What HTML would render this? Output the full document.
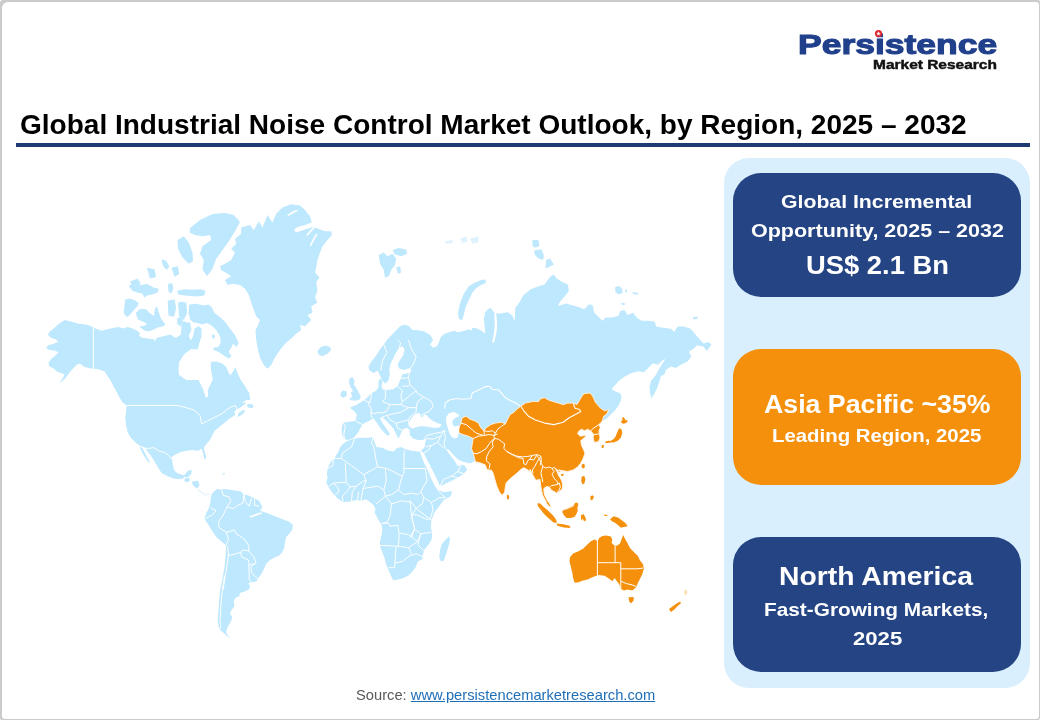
<!DOCTYPE html>
<html lang="en">
<head>
<meta charset="utf-8">
<title>Global Industrial Noise Control Market Outlook, by Region, 2025 – 2032</title>
<style>
html,body{margin:0;padding:0;}
body{width:1040px;height:720px;position:relative;overflow:hidden;background:#fff;font-family:"Liberation Sans",sans-serif;}
.frame{position:absolute;left:0;top:0;width:1040px;height:720px;background:#cbcbcb;border-radius:3px 2px 2px 2px;}
.frame i{position:absolute;left:2px;top:2px;right:1px;bottom:1.5px;background:#fff;border-radius:6px 3px 3px 3px;display:block;}
.t{position:absolute;white-space:nowrap;line-height:1;transform-origin:0 0;}
.rule{position:absolute;left:16px;top:143px;width:1014px;height:3.5px;background:#203a74;}
.panel{position:absolute;left:724px;top:158px;width:306px;height:530px;border-radius:25px;background:#d9effd;}
.card{position:absolute;left:733px;width:288px;border-radius:28px;color:#fff;}
.c1{top:173px;height:124px;background:#244483;}
.c2{top:349px;height:136px;background:#f5900c;}
.c3{top:537px;height:135px;background:#244483;}
.b{font-weight:bold;}
.w{color:#fff;}
.src{color:#595959;}
.src a{color:#1f6fb8;text-decoration:underline;}
</style>
</head>
<body>
<div class="frame"><i></i></div>
<div class="t b" style="left:797.6px;top:29.9px;font-size:28.4px;transform:scaleX(1.25);color:#21408c;-webkit-text-stroke:1.1px #21408c;">Persistence</div>
<div class="t b" style="left:872.95px;top:58.58px;font-size:12.43px;transform:scaleX(1.2459);color:#111;-webkit-text-stroke:0.45px #111;">Market Research</div>
<svg style="position:absolute;left:874px;top:29px" width="9" height="9" viewBox="0 0 9 9"><circle cx="4.5" cy="4.5" r="3.6" fill="#e0242b"/><path d="M4.5 2.2 L5.1 3.8 L6.8 3.9 L5.5 4.9 L5.9 6.6 L4.5 5.7 L3.1 6.6 L3.5 4.9 L2.2 3.9 L3.9 3.8 Z" fill="#fff"/></svg>
<div class="t b" style="left:19.89px;top:110.67px;font-size:27.79px;transform:scaleX(1.0086);color:#000;">Global Industrial Noise Control Market Outlook, by Region, 2025 – 2032</div>
<div class="rule"></div>
<!--MAP-->
<svg style="position:absolute;left:0;top:0" width="1040" height="720" viewBox="0 0 1040 720">
<path fill="#bee8fd" d="M93.1,326.9 86.2,324.6 78.5,323.8 70.8,321.5 64.6,320 60,323.1 55.4,326.9 50,331.5 47.7,334.6 50.8,337.7 55.4,339.2 58.5,341.5 53.8,343.8 47.7,345.4 46.2,347.7 49.2,350 55.4,350.8 58.5,352.3 54.6,356.2 50.8,359.2 48.5,363.1 49.2,366.2 52.3,367.7 54.6,369.2 56.9,371.5 60.8,373.1 64.6,374.6 63.1,377.7 59.2,383.1 64.6,379.2 69.2,373.1 73.1,368.5 76.9,364.6 80,363.8 84.6,366.9 90.8,368.5 93.1,368.5 98.5,369.2 104.6,371.5 107.7,376.2 110.8,380.8 113.8,386.9 116.9,391.5 120,397.7 123.8,402.3 126.9,405.4 126.2,411.5 125.4,420 200,420 200,390 178.5,374.6 178.5,360.8 187.7,350 193.8,343.1 187.7,337.7 176.9,339.2 170.8,334.6 163.1,336.2 156.9,337.7 155.4,343.1 153.8,339.2 147.7,338.5 141.5,337.7 138.5,335.4 140,333.1 136.9,330.8 132.3,328.5 127.7,326.9 123.1,328.5 118.5,326.9 113.8,327.7 107.7,329.2 101.5,330.8 95.4,328.5Z"/>
<path fill="#bee8fd" d="M130,400 130,328.2 136.9,330.8 140,333.4 138.9,335.4 142,338 147.7,338.9 153.1,338.9 154.3,343.1 155.8,338.9 163.1,336.9 170,336.2 176.2,337.7 180.8,334.6 181.5,325.4 183.8,320.8 186.9,323.1 187.7,333.1 190.8,340.8 193.1,336.2 194.6,328.5 198.5,326.2 201.5,328.5 201.5,336.2 199.2,343.8 197.7,349.2 190.8,349.2 183.8,354.6 179.2,362.3 177.7,370 179.2,376.2 183.8,380.8 191.5,383.8 197.7,386.2 201.5,388.5 202.3,394.6 205.4,398.5 208.5,396.2 207.7,390 210,385.4 213.1,380.8 211.5,373.1 210.8,366.9 210.8,362 216.2,361.5 222.3,363.5 226.2,366.9 228.5,372.3 230.3,375.4 233.1,371.5 235.4,366.9 237.7,373.8 240.8,380 245.1,386.2 248.5,392.3 250.3,400Z"/>
<path fill="#bee8fd" d="M190.8,305.4 194.6,303.8 197.7,306.9 199.2,304.6 203.8,305.4 208.5,304.6 211.5,306.9 214.6,313.1 220.8,317.7 225.4,322.3 230,328.5 234.6,334.6 237.7,340.8 238.5,343.8 236.2,346.9 233.1,343.8 230.8,348.5 228.5,351.5 231.5,356.2 228.5,358.5 222.3,354.6 217.7,351.5 213.8,350 213.1,347.7 218.5,346.9 220.8,342.3 220,336.2 216.2,330 211.5,325.4 206.9,323.1 202.3,324.6 197.7,323.1 193.1,322.3 190,319.2 189.2,313.1 190,308.5Z"/>
<path fill="#bee8fd" d="M123.7,312.1 125.2,299.4 129.6,298.5 134.4,299.9 138.8,303.3 137.4,306.2 134.4,309.2 131.5,313 127.6,316.9 124.7,315Z"/>
<path fill="#bee8fd" d="M135.9,313 140.3,308.7 146.1,309.2 149,312.6 153.9,316 154.8,309.2 156.8,306.2 158.7,312.1 160.7,317.9 165.5,324.7 162.6,326.6 157.8,327.6 153.9,329.6 148,331.5 144.2,330.5 139.3,326.6 144.2,325.7 147.1,323.7 143.2,321.8 138.3,319.8 136.9,316.9Z"/>
<path fill="#bee8fd" d="M168,304.3 172.3,303.3 175.3,308.2 174.3,314 170.4,315 168.4,310.1Z"/>
<path fill="#bee8fd" d="M178.2,302.4 183,301.4 185.5,306.2 183,312.1 179.1,311.1Z"/>
<path fill="#bee8fd" d="M177.2,317.9 182.1,316.9 183,322.8 180.1,326.6 177.2,323.7Z"/>
<path fill="#bee8fd" d="M128.6,285.8 134.4,282.9 140.3,284.9 147.1,283.9 153.9,287.8 158.7,288.7 157.8,292.6 151.9,294.6 147.1,295.5 144.2,297.5 142.2,293.6 137.4,292.6 132.5,290.7Z"/>
<path fill="#bee8fd" d="M168,283.9 172.3,282.9 173.3,288.7 171.4,293.6 168.4,291.7Z"/>
<path fill="#bee8fd" d="M177.2,290.7 185,289.2 192.7,289.7 200.5,289.2 205.4,290.7 204.4,295.5 197.6,296.5 190.8,296 185,295.5 178.2,294.6Z"/>
<path fill="#bee8fd" d="M190,228 200,220 212.5,214 225,213 233.8,215 240,222 235,231.2 228.8,241.2 222.5,250 216.2,258.8 212.5,268.8 207,276.2 202.5,269.5 203.8,260 200,253.8 202.5,246.2 211.2,240 210,235 202.5,236.2 195,235 189.5,232.5Z"/>
<path fill="#bee8fd" d="M177.5,240 183.8,236.2 188.8,242.5 192.5,252.5 193,261.2 188.8,263.8 182.5,257.5 178,248.8Z"/>
<path fill="#bee8fd" d="M161.5,259.2 166.2,260.8 169.2,266.2 166.9,270 163.1,266.2Z"/>
<path fill="#bee8fd" d="M171.5,267.7 177.7,266.2 179.2,273.8 174.6,276.9Z"/>
<path fill="#bee8fd" d="M146.9,267.7 154.6,269.2 156.2,276.9 150,278.5Z"/>
<path fill="#bee8fd" d="M130,281.5 137.7,278.5 140.8,283.8 133.1,287.7Z"/>
<path fill="#bee8fd" d="M140.8,287.7 150,286.2 154.6,292.3 145.4,295.4Z"/>
<path fill="#bee8fd" d="M241.2,227.5 250,225 253.8,230 258.8,221.2 262.5,227.5 267.5,215 272.5,222.5 276.2,213.8 282.5,207.5 291.2,204.2 300,205.5 303.8,208.8 310,216.2 311.8,222.5 305,225 297.5,227 293.8,230 296.2,232.5 305,229.5 311.2,227.5 315,227.5 325,231.2 331.2,231.2 332,235 327.5,240 322.5,246.2 320,252.5 317.5,260 316.2,267.5 315,272.5 319.5,277.5 316.2,282.5 317.5,290 315,297.5 317.5,302.5 311.2,306.2 312.5,312.5 307.5,315 311.2,320 305,326.2 300,325 301.2,330 296.2,333.8 292.5,337.5 285,343.8 280,350 275,357.5 271.2,365 267.5,368.8 263.8,365 260,357.5 258,350 256.2,340 255.5,330 257.5,326.2 260,320 256.2,316.2 253.8,310 251.2,302.5 248.8,295 245,288.8 240,285 232.5,283.8 227.5,285 225,280 231.2,276.2 227.5,273.8 221.2,270 220,266.2 225,263.8 231.2,260 235,252.5 231.2,248.8 236.2,243.8 235,238.8 241.2,233.8Z"/>
<path fill="#bee8fd" d="M317.5,351.2 320,347.5 325,345.5 330,347 331.2,350 327.5,353.8 322.5,356.2 318.8,355Z"/>
<path fill="#bee8fd" d="M110.8,380 114.6,387.7 118.5,395.4 122.3,402.3 126.9,405.4 126.2,410.8 125.4,418.5 126.2,426.2 127.7,432.3 130.8,437.7 135.4,442.3 139.2,445.4 144.6,447.7 150.8,455.4 155.4,463.1 159.2,469.2 161.5,473.1 167.7,476.2 173.8,478.5 178.5,479.2 183.1,478.5 184.3,476.6 186.2,475.1 185.4,474.6 181.5,475.4 177.7,473.8 174.6,470.8 173.1,466.2 172.3,461.5 171.5,456.9 173.8,455.4 180,452.3 186.2,450.8 192.3,450 198.5,450.8 201.5,448.5 202.8,452.3 203.8,456.9 204.6,460.3 206.2,456.9 204.9,452.3 203.8,447.7 206.2,444.6 210.8,438.5 213.1,433.8 214.6,430.8 218.5,427.7 222.3,424.6 226.2,421.5 228.5,419.2 232.3,416.9 235.4,414.6 234.2,411.5 236.9,409.2 240,407.7 244.6,404.6 246.2,402.3 241.5,403.1 246.2,400 250,396.9 249.2,392.3 243.8,387.7 238.5,380 212.3,380 210,386.2 209.2,393.8 206.2,398.8 203.1,389.2 198.5,380Z"/>
<path fill="#bee8fd" d="M246.9,404.6 251.5,403.8 253.8,406.2 252.3,408 247.7,407.4Z"/>
<path fill="#bee8fd" d="M238.5,413.1 243.1,410 245.4,410.8 242.3,414.6 237.7,416.9Z"/>
<path fill="#bee8fd" d="M139.7,446.5 142.3,447.7 146.2,455.4 150,462.3 148.5,462.6 143.8,455.4 140.3,448.8Z"/>
<path fill="#bee8fd" d="M187.7,470.7 191.8,470.1 191.3,473.7 188.9,476.6 185.9,477.2 183,476.3 177.1,474.9 174.7,472.5 179.4,473.7 184.2,475.5 185.9,473.1Z"/>
<path fill="#bee8fd" d="M184.8,478.4 188.9,477.2 190.1,480.8 186.5,482.5 184.2,480.8Z"/>
<path fill="#bee8fd" d="M191.8,481.4 198.3,480.8 199.5,485.5 197.2,488.4 194.2,486.7 192.4,483.7Z"/>
<path fill="#e6f5fd" d="M197.7,489 205.4,494.3 210.1,493.8 210.1,494.9 204.8,495.5 196.9,490Z"/>
<path fill="#d9f0fc" d="M222.5,472.7 224.9,472.7 225.3,474.6 222.9,474.9Z"/>
<path fill="#bee8fd" d="M213.1,492.3 216.9,488.9 220.8,489.5 223.1,488.9 228.5,489.5 234.6,490.5 240.8,491.5 243.8,494.6 248.5,495.4 254.6,498.5 259.2,500.8 262.3,506.9 260,510.8 266.9,513.1 273.1,515.4 280.8,518.5 288.5,521.5 292.8,524.6 292.3,529.2 290,533.1 286.2,536.9 285.1,541.5 284.2,547.7 282.3,552.3 279.2,555.4 273.8,557.7 270,560 266.2,563.8 263.8,569.2 261.5,573.8 258.5,577.7 256.2,581.5 251.5,582.3 248.5,583.1 250,586.2 249.2,589.2 244.6,591.5 240,593.1 239.2,596.2 235.4,597.7 233.8,601.5 234.6,606.2 231.5,610 230,613.8 232.3,616.9 231.5,620 229.2,624.6 226.9,628.5 226.2,632.3 228.5,636.2 231.5,638.5 227.7,636.5 223.1,632.6 220,630 218.5,626.2 217.7,620 218.5,610.8 219.2,600 220,590.8 222.3,580 224.6,566.2 225.7,553.8 226.2,545.4 221.5,541.5 216.9,537.7 213.1,532.3 209.2,526.2 206.2,521.5 204.6,518.5 206.2,513.1 208.5,509.2 210,504.6 210.8,498.5 211.5,494.6Z"/>
<path fill="#ffffff" d="M249.2,516.6 254.6,514.2 261.5,512.3 262.3,513.5 256.2,515.7 250.8,517.7Z"/>
<path fill="#bee8fd" d="M346.2,441.5 354.6,438.5 360.8,437.7 368.5,437.7 373.1,436.9 374.6,442.3 376.2,446.9 382.3,447.7 388.5,450.8 393.8,451.5 396.2,448.5 400.8,446.9 405.4,449.2 411.5,450.8 417.7,451.5 420,451.5 420.8,454.6 423.8,462.3 427.7,470 430.8,477.7 433.1,482.3 435.4,486.9 437.7,490 443.8,492.3 449.2,491.5 452.3,491.2 450.8,496.2 443.8,500 439.2,506.2 434.6,512.3 431.5,520 430.8,527.7 432.3,533.1 431.5,540 428.5,544.6 424.6,549.2 423.1,553.8 422.3,559.2 417.7,561.5 416.2,566.2 413.1,570.8 408.5,575.4 402.3,578.5 396.2,580 393.1,580.3 390.8,575.4 388.5,570 386.2,564.6 384.6,558.5 382.3,552.3 380,546.2 380,541.5 381.5,535.4 382.3,529.2 381.5,524.6 378.5,520 376.2,515.4 374.6,513.1 375.4,508.5 373.1,504.6 370,502.3 366.2,499.2 360.8,500.8 356.2,500 350,501.5 343.1,502.3 340.8,500.8 337.7,498.5 334.6,495.4 331.5,491.5 328.5,486.9 326.2,482.3 327.7,477.7 326.9,473.8 327.7,468.5 330,463.1 334.6,457.7 337.7,453.1 340,447.7 343.1,443.8Z"/>
<path fill="#bee8fd" d="M449.2,536.2 450,540 448.5,546.2 446.2,553.8 443.8,560.8 440.8,561.2 439.2,556.9 440,550.8 441.5,544.6 444.6,540.8 447.7,537.7Z"/>
<path fill="#bee8fd" d="M400,326.2 404.6,324.6 409.2,326.2 412.3,330 416.9,330 424.6,331.5 430.8,335.4 433.1,340 430,344.6 433.1,347.7 436.9,346.2 439.2,341.5 440.8,336.9 444.6,333.8 449.2,332.3 453.8,330.8 458.5,332.3 464.6,330.8 469.2,329.2 471.5,330.8 472.3,327.7 476.9,328.5 481.5,330.8 485.4,333.8 484.6,326.2 483.8,318.5 485.4,312.3 487.7,309.2 490.8,308 493.8,312.3 498.5,313.8 507.7,312.3 512.3,315.4 514.6,321.5 515.4,307.7 520,301.5 523.1,295.4 530.8,289.2 538.5,286.2 544.6,284.6 547.7,280 550.8,276.2 553.8,274.6 556.5,278.2 561.4,281.4 568,284.7 568.8,291.2 564.7,296.2 559.8,301.9 558.2,306 566.3,303.5 571.2,305.1 577.8,306.8 584.3,309.2 589.2,304.3 592.5,305.1 594.1,312.5 597.4,315.8 602.3,320.7 605.6,317.4 612.1,317.4 618.6,315.8 620.3,310.9 624.4,310 627.6,314.9 633.4,312.8 636.6,317.4 641.5,320.7 648.1,320.7 654.6,321.5 656.2,326.4 664.4,328 671,328.8 674.2,332.1 677.5,326.4 684,326.4 690.6,328.8 695.5,334.6 700.4,340.3 703.6,343.6 708.5,341.9 711.5,344.4 709.4,347.6 706.9,350.9 703.6,346.8 697.1,345.2 693.8,348.5 688.9,351.7 691.4,356.6 687.3,361.5 680.8,364.8 675.9,368.1 671,366.4 666.1,369.7 664.4,374.6 660.8,376.2 659.2,382.3 656.9,388.5 653.8,394.6 651.5,398.5 650,393.1 649.5,386.9 651.1,380.8 656.2,374.6 659.5,368.1 662.8,363.2 665.2,359.1 662.8,359.9 657.9,364.8 653,363.2 648.1,368.1 644,372.2 638.3,371.3 631.7,373 625.2,376.2 618.6,381.1 613.7,386.9 615.4,384.6 611.5,389.2 615.4,391.5 620,393.1 621.5,396.2 620.8,400.8 618.5,405.4 615.4,410 610.8,414.6 606.2,419.2 602.3,420.8 598.5,420.8 578.5,419.2 532.3,431.5 501.5,434.6 486.2,446.9 476.9,460 470,463.5 462.3,461.5 457.7,459.2 453.1,454.6 449.2,450 445.4,448.5 448.5,453.1 451.5,456.9 454.6,460.8 457.7,466.2 461.5,464.6 464.6,465.4 467.2,469.7 463.8,473.8 457.7,477.7 451.5,480.8 445.4,483.8 440,486.2 437.7,480.8 434.6,474.6 430.8,466.9 426.9,459.2 423.8,453.1 420.8,451.2 424.6,446.9 425.4,442.3 426.6,438.5 426.9,438.5 423.8,440 417.7,440 413.1,438.5 410,435.4 409.7,430.8 408.5,428.5 405.4,428 402.3,430 400.8,433.8 398.5,438.5 396.2,434.2 393.8,429.2 390,424.6 385.4,420 382.3,416.9 380,417.7 382.3,423.1 386.9,429.2 390,434.2 387.7,435.7 383.8,432.3 380,427.4 376.5,422.3 373.1,418.8 368.9,420.9 363.1,423.8 360.5,427.7 358.2,432.6 353.5,438 348.5,440 344.6,439.2 342.3,435.4 341.5,429.2 342.8,422.8 348.5,421.8 355.5,420.9 356.8,414.6 354.3,411.2 350.6,408.6 350.9,407.1 355.2,405.5 362,401.5 366.2,398.5 368.9,395.7 371.2,393.2 376.2,390.8 378.5,386.9 378.5,380.8 380.8,378.5 382.3,381.5 381.5,386.2 382.3,389.2 386.9,390 393.1,389.2 397.7,386.2 399.2,382.3 400.8,378.5 402.3,374.6 408.5,373.1 411.5,370.8 410,368 403.8,370 399.2,368.5 397.7,364.6 400,360 403.1,355.4 404.6,349.2 402.3,346.2 399.2,347.7 396.2,352.3 393.1,358.5 390.8,363.1 389.2,369.2 390,373.8 388.5,380.3 385.4,383.8 382.3,380.8 380,375.4 377.7,370.8 373.1,373.1 369.2,370 368.5,366.2 371.5,361.5 376.2,355.4 380,349.2 383.8,344.6 386.9,340Z"/>
<path fill="#bee8fd" d="M349.2,378.5 352.3,376.9 354.6,380.8 353.8,384.6 356.2,387.7 358.5,392.3 360.8,396.2 360,399.2 356.2,400.8 351.5,400.3 349.2,399.2 352.3,396.2 350.8,393.1 353.1,390.8 350.8,387.7 349.2,383.8Z"/>
<path fill="#bee8fd" d="M340.8,392.3 343.1,390.5 346.6,391.5 346.9,395.4 343.8,397.7 340.5,396.2Z"/>
<path fill="#bee8fd" d="M458,312.5 460,303.8 463.8,293.8 468.8,286.2 475,282.5 481.2,280 485.5,279.5 486.2,282.5 481.2,285 476.2,288 472.5,292.5 468.8,300 465.5,307.5 463.8,315 462,320.5 458.8,318.8Z"/>
<path fill="#bee8fd" d="M532.3,240 538.5,240 539.2,246.2 535.4,247.7 532.6,246.2Z"/>
<path fill="#bee8fd" d="M533.8,250.8 541.5,249.2 543.8,255.4 543.1,260 538.5,258.5 535.4,255.4Z"/>
<path fill="#bee8fd" d="M546.2,260 550,258.5 553.8,264.6 549.2,266.9 545.4,268.5Z"/>
<path fill="#bee8fd" d="M615.1,287.2 618.6,286 621.9,288 622.7,292.9 618.6,294.5 615.4,292.1Z"/>
<path fill="#bee8fd" d="M625.2,289.6 626.8,289.3 627.1,292.1 625.5,292.6Z"/>
<path fill="#bee8fd" d="M632.5,292.1 638.3,292.9 638.3,294.5 633.4,294.2Z"/>
<path fill="#bee8fd" d="M621.1,302.7 625.2,303.5 624.4,305.1 621.6,304.7Z"/>
<path fill="#bee8fd" d="M692.2,317.4 697.1,316.6 697.9,318.5 693.8,319.5Z"/>
<path fill="#ffffff" d="M494.2,312.3 496.2,313.1 497.2,323.1 496.6,332.3 494.2,342.3 492,342.8 493.5,335.4 494.8,326.2 494.5,318.5Z"/>
<path fill="#f5900c" stroke="#fff5e6" stroke-width="0.9" stroke-linejoin="round" d="M458.5,429.2 460.8,423.1 462.3,417.7 466.2,416.2 470,419.2 474.6,420.8 478.5,423.1 480.8,427.7 483.8,430.8 486.2,427.7 490.8,424.6 495.4,423.1 501.5,422.3 505.4,423.8 507.7,419.2 510,414.6 513.8,412.3 517.7,408.5 520.8,406.2 525.4,403.1 532.3,401.5 538.5,401.5 540.8,398.5 544.6,397.7 548.5,400 553.1,401.5 558.5,403.1 563.1,404.6 567.7,403.1 573.8,403.1 576.9,404.6 579.2,400.8 581.5,396.9 583.8,393.8 588.5,393.1 590.8,393.4 593.1,396.9 595.4,402.3 600,407.7 604.6,410.8 608.8,409.5 606.9,413.8 603.8,416.2 602.3,420.8 600.8,423.1 598.5,424.6 600.3,427.2 598.9,431.2 600,437.7 598.5,441.7 594.2,442.3 593.1,437.7 593.8,434.6 592,432.3 590.5,430.8 587.7,429.2 584.6,430.8 581.5,429.2 578.5,431.5 577.7,433.8 580,436.2 584.6,435.4 586.2,436.2 583.1,438.5 580.8,440.8 581.5,445.4 583.8,450 584.9,453.4 583.1,458.5 580.8,463.1 577.7,466.9 573.1,470 567.7,471.5 563.1,470.8 558.5,472.3 555.4,470 562.8,470.9 558.9,469.9 557.4,472.4 558.4,475.3 560.3,478.2 561.8,481.1 562.8,485 562.3,488.4 560.3,490.8 558.4,492.3 556.2,493.5 555,491.8 553.5,491.3 551.1,489.8 549.6,487.4 547.7,486.4 545.3,487.1 543.8,488.9 544.1,492.8 544.8,495.7 546,497.8 547.2,500.5 549.3,503 551.3,507.1 549.2,506.4 546.7,503.4 545.5,500.5 543.8,497.6 542.5,494.7 541.6,490.8 540.9,486.9 540.4,483 539.9,479.2 539,479.6 536,480.3 534.6,478.2 533.1,475.3 531.5,472.4 530.2,469.4 529.5,471.1 526.2,468.9 523.8,467.7 521.5,468.9 519.2,471.1 514.6,475.1 510,478.8 506.2,482.8 505.4,486.5 504.6,492.3 502,495.4 499.2,491.5 496.9,486.2 494.6,478.5 493.1,473.1 491.5,470.3 486.9,469.5 485.4,464.9 480,462.8 475.4,461.8 474.6,458.5 473.1,453.1 471.5,448.5 472.3,443.8 473.1,438.5 468.5,436.2 463.1,434.6 459.2,433.1Z"/>
<path fill="#f5900c" d="M506.9,494.6 508.9,495.4 509.2,498.5 507.7,499.7 506.8,497.7Z"/>
<path fill="#f5900c" d="M537.3,503.6 539.9,503.3 543.8,506.9 548.2,510.7 552.1,514.6 555,518 556.4,520.5 556.7,522.9 553.5,522.4 547.7,517.5 543.8,513.7 540.4,509.3 538,506.2Z"/>
<path fill="#f5900c" d="M556.6,523.5 563.1,524.2 569.5,525.7 570.5,528 563.8,527.5 557.4,525.8Z"/>
<path fill="#f5900c" d="M562.3,510.7 565.7,509.3 569.6,506.9 573,505.4 574.4,503 577.3,502.5 578.3,504.4 577.3,508.3 577.8,510.7 576.4,514.1 574.4,517.1 570.5,518 566.6,518 563.7,515.1 562.6,512.7Z"/>
<path fill="#f5900c" d="M580.9,515.1 583.7,514.2 585.2,516.9 586.2,520.3 584,521.2 582.8,518.8 581.2,520.6Z"/>
<path fill="#f5900c" d="M581.8,464.6 584.3,463.4 584.9,467.3 583.2,468.7 581.6,467.1Z"/>
<path fill="#f5900c" d="M581.8,476.4 584.3,475.9 585.3,479.2 584.5,483.2 582.6,484.4 581.2,481.1Z"/>
<path fill="#f5900c" d="M590.2,496.6 592.4,495.2 593.9,496.6 592.9,499.6 590.9,500.5Z"/>
<path fill="#f5900c" d="M610,519.2 613.8,516.2 618.5,517.7 622.3,520.8 625.4,523.1 627.7,526.2 623.8,526.9 620.8,527.7 618.5,525.4 615.4,523.1 612.3,521.5Z"/>
<path fill="#f5900c" d="M603.8,514.6 606.9,515.1 607.7,516.3 604.3,515.8Z"/>
<path fill="#f5900c" d="M602.3,445.4 603.8,444.6 603.4,448 602.5,447.7Z"/>
<path fill="#f5900c" d="M622.3,417.7 623.8,416.9 625.4,420 628,420.8 626.2,423.1 623.1,423.8 620.8,422.3 622.3,420Z"/>
<path fill="#f5900c" d="M619.2,428.2 621.5,429.2 622.3,433.1 620.8,437.7 617.7,440.8 613.8,442.6 611.1,442.3 611.1,440.5 613.8,438.9 615.7,436.2 616.9,433.1 618.2,430Z"/>
<path fill="#f5900c" d="M605.4,441.5 608.5,440.8 611.5,441.1 611.1,442.6 607.7,443.1 605.4,443.1Z"/>
<path fill="#f5900c" d="M601.5,445.4 603.1,445.1 603.4,447.4 601.8,448.2Z"/>
<path fill="#f5900c" d="M560.8,474.3 563.5,473.8 563.7,475.5 561.3,476Z"/>
<path fill="#f5900c" d="M570,557.3 573.1,553.5 578.5,551.2 583.1,548.8 586.9,545 590.8,541.2 594.6,539.6 597.7,541.2 599.2,538.1 602.3,536.1 606.2,535.5 610.8,536.5 612.3,539.6 611.5,542.7 613.8,545 616.9,545.8 620,543.5 621.5,539.6 623.1,535 625.4,539.6 627.7,543.5 630,548.1 633.8,551.9 637.7,555.8 640,560.4 643.1,564.2 643.8,568.8 642.3,574.2 640,578.8 637.7,583.5 636.2,587.3 632.3,590.4 627.7,589.6 623.8,590.4 620.8,588.8 619.2,584.2 616.9,581.2 614.6,578.1 612.3,581.2 609.2,578.8 604.6,575.8 598.5,575 592.3,577.3 587.7,579.6 583.1,580.4 578.5,582.2 574.6,582.7 573.1,578.1 572.3,572.7 570.8,566.5 569.5,561.2Z"/>
<path fill="#f5900c" d="M628.5,597.3 633.8,597 633.5,600.4 631.1,603.5 629.2,601.2Z"/>
<path fill="#f5900c" d="M668.9,609.3 672,606.8 676.2,603.8 680.3,601.5 680.9,603.2 677.7,606.1 674.6,609.3 671.1,611.9Z"/>
<path fill="#fbdcae" d="M684.6,590.4 686.5,589.6 687.4,592.7 685.5,595.5 684.3,593.5Z"/>
<path fill="#ffffff" d="M409.3,426.3 408.8,422.9 410.6,419.4 413.2,416 416.2,413.8 418.8,412.9 420.5,414.7 421,417 423.1,416.4 424,414.7 426.6,415.1 429.6,418.5 433.1,421.1 437.4,422.9 441.7,424.6 440,427.2 435.7,428.1 431.3,427.6 427.9,426.8 423.5,426.2 420.1,426.3 415.8,427.2 412.3,428.8Z"/>
<path fill="#ffffff" d="M446,417.7 448.6,413.4 453.8,411.8 459,414.7 458.6,416.4 455.6,417.7 453,419.8 452.1,423.7 454.7,426.8 458.6,425.5 459.4,428.1 458.6,433.3 457.7,437.6 454.7,438.6 451.2,436.7 449.1,432.4 447.8,428.1 446.2,422.9Z"/>
<path fill="#bee8fd" d="M378.8,255 383.8,252.5 387.5,256.2 392.5,253.8 396.2,258.8 395,265 391.2,270 388.8,276.2 385,277.5 383.8,270 380,263.8Z"/>
<path fill="#bee8fd" d="M392.5,250 398.8,248 406.2,249.5 407,253.8 401.2,256.2 395,254.5Z"/>
<path fill="#bee8fd" d="M396.2,267.5 400,266.2 401.2,272.5 398,273.8Z"/>
<path fill="#dff2fd" d="M460,238.8 466.2,236.2 467.5,241.2 462.5,243Z"/>
<path fill="#dff2fd" d="M470,238.8 478.8,236.2 478,242.5 472.5,243.8Z"/>
<path fill="#dff2fd" d="M445,241.2 452.5,240 453,243 446.2,243.8Z"/>
<path fill="#bee8fd" d="M167.7,300.8 174.6,299.2 176.2,308.5 173.8,316.9 168.5,315.4Z"/>
<path fill="#bee8fd" d="M178.5,303.1 186.2,302.3 187.2,313.1 183.8,320 178.9,316.2Z"/>
<path fill="#bee8fd" d="M189.2,304.6 197.7,303.8 202.3,306.9 201.5,316.2 197.7,320.8 190.8,320 188.5,313.1Z"/>
<path fill="#bee8fd" d="M181.5,323.1 190,322.3 191.5,330 188.5,336.2 183.1,334.6Z"/>
<path fill="#bee8fd" d="M211.8,334.9 214.6,334.6 214.9,338 212.3,338.5Z"/>
<path fill="#ffffff" d="M287.2,215.1 290.7,212.5 295,210.3 298.4,209.9 296.7,211.6 292.4,213.8 288.5,216Z"/>
<path fill="#ffffff" d="M306.2,235 310.6,229.8 314.4,226.8 314.9,228.1 311.4,231.5 307.5,235.8Z"/>
<path fill="#ffffff" d="M309.7,245.4 313.1,238.4 316.6,233.3 317.5,234.3 314.4,239.7 311,246.2Z"/>
<path fill="none" stroke="#ffffff" stroke-width="1.0" stroke-linejoin="round" d="M93.4,326.9 93.4,368.5"/>
<path fill="none" stroke="#ffffff" stroke-width="1.0" stroke-linejoin="round" d="M126.9,405.4 176.9,405.4 186.2,407.7 193.8,410 200,415.4 201.5,423.8 207.7,420.8 215.4,416.9 223.1,413.1 226.2,410 230.8,406.9 235.4,405.4 236.9,409.2"/>
<path fill="none" stroke="#ffffff" stroke-width="1.0" stroke-linejoin="round" d="M139.7,446.2 146.2,448.5 153.8,447.7 160,451.5 164.6,452.3 168.5,455.4 171.5,459.2"/>
<path fill="none" stroke="#ffffff" stroke-width="1.0" stroke-linejoin="round" d="M221.5,489.2 223.1,495.4 229.2,496.9 230.8,501.5 226.9,506.9 233.1,508.5 237.7,505.4 243.1,503.1 243.8,494.6"/>
<path fill="none" stroke="#ffffff" stroke-width="1.0" stroke-linejoin="round" d="M226.9,506.9 223.1,515.4 218.5,521.5 219.2,527.7 226.2,532.3 234.6,530 236.2,533.8 243.8,538.5 249.2,546.2 248.5,550.8 253.8,556.9 256.2,563.1 250.8,566.2 251.5,572.3 254.6,576.2 257.7,578.5"/>
<path fill="none" stroke="#ffffff" stroke-width="1.0" stroke-linejoin="round" d="M226.2,532.3 228.5,538.5 226.2,545.4"/>
<path fill="none" stroke="#ffffff" stroke-width="1.0" stroke-linejoin="round" d="M227.7,555.4 236.2,553.8 240.8,552.3 242.3,550 249.2,550.8"/>
<path fill="none" stroke="#ffffff" stroke-width="1.0" stroke-linejoin="round" d="M227.7,546.2 228.5,555.4 226.9,566.2 224.6,580 223.1,590"/>
<path fill="none" stroke="#ffffff" stroke-width="1.0" stroke-linejoin="round" d="M240.8,552.3 241.5,556.9 248.5,560 249.2,564.6 254.6,563.8"/>
<path fill="none" stroke="#ffffff" stroke-width="1.0" stroke-linejoin="round" d="M248.5,564.6 249.2,572.3 249.2,580 251.5,582.3"/>
<path fill="none" stroke="#ffffff" stroke-width="1.0" stroke-linejoin="round" d="M205.4,518.5 211.5,515.4 216.2,510.8 210.8,507.7"/>
<path fill="none" stroke="#ffffff" stroke-width="1.0" stroke-linejoin="round" d="M243.8,494.6 245.4,501.5 249.2,506.2 251.5,498.5"/>
<path fill="none" stroke="#ffffff" stroke-width="1.0" stroke-linejoin="round" d="M254.6,498.5 254.6,505.4 259.2,506.2"/>
<path fill="none" stroke="#ffffff" stroke-width="1.0" stroke-linejoin="round" d="M224.6,575.4 222.3,590.8 220.8,606.2 220,621.5 220.8,629.2"/>
<path fill="none" stroke="#ffffff" stroke-width="1.0" stroke-linejoin="round" d="M597.4,541.2 597.4,575.8"/>
<path fill="none" stroke="#ffffff" stroke-width="1.0" stroke-linejoin="round" d="M615.1,545 615.1,562.7"/>
<path fill="none" stroke="#ffffff" stroke-width="1.0" stroke-linejoin="round" d="M597.4,562.7 620.8,562.7 620.8,588.8"/>
<path fill="none" stroke="#ffffff" stroke-width="1.0" stroke-linejoin="round" d="M620.8,568.8 636.9,568.8 643.1,568.1"/>
<path fill="none" stroke="#ffffff" stroke-width="1.0" stroke-linejoin="round" d="M620.8,581.2 626.2,583.5 632.3,585 636.2,586.5"/>
<path fill="none" stroke="#ffffff" stroke-width="1.1" stroke-linejoin="round" d="M520.8,406.2 523.8,410.8 528.5,416.2 535.4,420 544.6,423.1 553.8,424.6 563.1,422.3 569.2,417.7 575.4,414.6 580.8,411.5 579.2,409.2 575.4,408.5 573.8,405.4 573.8,403.1"/>
<path fill="none" stroke="#ffffff" stroke-width="1.0" stroke-linejoin="round" d="M505.4,423.8 501.5,426.2 497.7,429.2 495.4,433.1 493.8,436.2 494.6,438.5 498.5,439.2 501.5,441.5 504.6,443.8 503.8,448.5 506.9,451.5 510.8,453.8 516.9,456.2 523.1,456.9 529.2,456.2 532.3,455.4 536.9,454.6 540.8,456.2 541.5,460.8 540,465.4"/>
<path fill="none" stroke="#ffffff" stroke-width="1.0" stroke-linejoin="round" d="M494.6,438.5 492.3,442.3 493.1,446.9 489.2,451.5 486.9,456.2 486.2,460.8 490,463.8 489.2,468.5"/>
<path fill="none" stroke="#ffffff" stroke-width="1.0" stroke-linejoin="round" d="M473.1,453.1 476.9,453.8 481.5,451.5 486.2,448.5 489.2,443.8 491.5,440.8 494.6,438.5"/>
<path fill="none" stroke="#ffffff" stroke-width="1.0" stroke-linejoin="round" d="M473.1,438.5 478.5,436.2 483.8,435.4 489.2,434.6 494.6,435.4 497.7,433.8"/>
<path fill="none" stroke="#ffffff" stroke-width="1.0" stroke-linejoin="round" d="M460.8,423.1 466.2,424.6 470.8,428.5 476.2,433.1 480.8,434.6 483.8,435.4"/>
<path fill="none" stroke="#ffffff" stroke-width="1.0" stroke-linejoin="round" d="M483.8,430.8 487.7,431.5 492.3,430.8 495.4,433.1"/>
<path fill="none" stroke="#ffffff" stroke-width="1.0" stroke-linejoin="round" d="M483.8,430.8 484.6,434.6"/>
<path fill="none" stroke="#ffffff" stroke-width="1.0" stroke-linejoin="round" d="M506.9,451.5 512.3,454.6 518.5,457.7 523.1,458.5 523.8,463.8 526.2,464.6 527.7,460.8 530,459.2 532.3,455.4"/>
<path fill="none" stroke="#ffffff" stroke-width="1.0" stroke-linejoin="round" d="M530,459.2 533.8,460 536.9,454.6"/>
<path fill="none" stroke="#ffffff" stroke-width="1.0" stroke-linejoin="round" d="M540.8,456.2 536.9,462.3 534.6,466.9 532.3,470 533.1,473.1"/>
<path fill="none" stroke="#ffffff" stroke-width="1.0" stroke-linejoin="round" d="M536.5,455.8 539.4,458.7 540.9,462.6 542.8,466.5 541.9,469.4 540.9,472.8 541.9,477.2 542.8,482.1"/>
<path fill="none" stroke="#ffffff" stroke-width="1.0" stroke-linejoin="round" d="M542.8,466.5 545.8,468 549.2,467 552.1,468.5 554,471.4 552.1,474.3 553.5,477.2 555.5,480.1 557.9,482.1 557.4,484.5 555,485 551.6,485.5 549.6,487.4"/>
<path fill="none" stroke="#ffffff" stroke-width="1.0" stroke-linejoin="round" d="M552.1,468.5 554,467.5 556.9,469.4 557.4,472.4"/>
<path fill="none" stroke="#ffffff" stroke-width="1.0" stroke-linejoin="round" d="M557.4,484.5 559.4,483 560.3,486.9 558.9,490.8 556.4,492.8"/>
<path fill="none" stroke="#ffffff" stroke-width="1.0" stroke-linejoin="round" d="M574.4,503 573.3,505.9 570.5,507.3 567.6,508.3 566.2,509.5"/>
<path fill="none" stroke="#ffffff" stroke-width="1.0" stroke-linejoin="round" d="M590.5,430.8 593.1,428.5 598.2,425.1"/>
<path fill="none" stroke="#ffffff" stroke-width="1.0" stroke-linejoin="round" d="M593.8,434.6 599.2,433.8"/>
<path fill="none" stroke="#ffffff" stroke-width="1.1" stroke-linejoin="round" d="M444.6,408.5 445.4,403.1 449.2,400 456.9,398.5 463.1,399.2 470.8,398.5 472.3,393.1 478.5,390 484.6,386.9 489.2,386.2 492.3,389.2 498.5,390 501.5,393.1 504.6,396.9 509.2,400 515.4,403.1 520,405.7"/>
<path fill="none" stroke="#ffffff" stroke-width="1.0" stroke-linejoin="round" d="M408.5,340 411.5,349.2 416.2,356.9 413.1,364.6 410,368.5"/>
<path fill="none" stroke="#ffffff" stroke-width="1.0" stroke-linejoin="round" d="M410,370.8 408.5,376.9 410,384.6 416.2,390.8 417.7,393.8 423.8,396.9 431.5,401.5 433.1,406.2 430,410.8 423.8,413.8 421.5,415.7"/>
<path fill="none" stroke="#ffffff" stroke-width="1.0" stroke-linejoin="round" d="M383.8,344.6 386.9,352.3 382.3,361.5 380.8,370.8"/>
<path fill="none" stroke="#ffffff" stroke-width="1.0" stroke-linejoin="round" d="M399.2,347.7 400.8,343.1 397.7,340"/>
<path fill="none" stroke="#ffffff" stroke-width="1.0" stroke-linejoin="round" d="M402.3,386.2 408.5,386.2 410,384.6"/>
<path fill="none" stroke="#ffffff" stroke-width="1.0" stroke-linejoin="round" d="M400.8,378.5 408.5,377.7"/>
<path fill="none" stroke="#ffffff" stroke-width="1.0" stroke-linejoin="round" d="M397.7,386.2 402.3,390.8 400.8,396.9 402.3,401.5 400.8,404.6 408.5,407.7 416.2,407.7 417.7,401.5 423.8,396.9"/>
<path fill="none" stroke="#ffffff" stroke-width="1.0" stroke-linejoin="round" d="M402.3,401.5 416.2,390.8"/>
<path fill="none" stroke="#ffffff" stroke-width="1.0" stroke-linejoin="round" d="M385.4,390 385.4,398.5 382.3,401.5 390,404.6 400.8,404.6"/>
<path fill="none" stroke="#ffffff" stroke-width="1.0" stroke-linejoin="round" d="M371.5,393.1 370.8,399.2 368.5,404.6 371.5,409.2 370.8,412.3 374.6,413.8 377.7,412.3 382.3,413.1 386.9,410.8 390,404.6"/>
<path fill="none" stroke="#ffffff" stroke-width="1.0" stroke-linejoin="round" d="M363.1,399.2 366.9,401.5 370.8,403.1"/>
<path fill="none" stroke="#ffffff" stroke-width="1.0" stroke-linejoin="round" d="M356.2,421.5 360.8,423.8 363.1,424.6"/>
<path fill="none" stroke="#ffffff" stroke-width="1.0" stroke-linejoin="round" d="M343.1,423.1 345.4,426.2 343.8,433.8 344.6,439.7"/>
<path fill="none" stroke="#ffffff" stroke-width="1.0" stroke-linejoin="round" d="M370.8,412.3 371.5,416.9 374.6,420"/>
<path fill="none" stroke="#ffffff" stroke-width="1.0" stroke-linejoin="round" d="M382.3,416.9 386.9,415.4 393.1,413.8 400.8,412.3 408.5,407.7"/>
<path fill="none" stroke="#ffffff" stroke-width="1.0" stroke-linejoin="round" d="M386.9,415.4 390,420 396.2,423.1 402.3,421.5 408.5,420 410,416.9 416.2,412.3 416.2,407.7"/>
<path fill="none" stroke="#ffffff" stroke-width="1.0" stroke-linejoin="round" d="M396.2,423.1 397.7,428.5 402.3,430"/>
<path fill="none" stroke="#ffffff" stroke-width="1.0" stroke-linejoin="round" d="M408.5,420 409.2,426.2"/>
<path fill="none" stroke="#ffffff" stroke-width="1.0" stroke-linejoin="round" d="M423.8,440 426.9,435.4 433.1,433.8 440.8,432.3 445.4,430.8"/>
<path fill="none" stroke="#ffffff" stroke-width="1.0" stroke-linejoin="round" d="M354.6,438.5 351.5,446.9 342.3,453.1 341.5,458.5 333.1,458.5 333.1,465.4 327.7,468.5"/>
<path fill="none" stroke="#ffffff" stroke-width="1.0" stroke-linejoin="round" d="M341.5,458.5 363.8,474.6 377.7,466.9 376.2,460.8 373.8,446.9 371.5,443.8 373.1,436.9"/>
<path fill="none" stroke="#ffffff" stroke-width="1.0" stroke-linejoin="round" d="M377.7,466.9 386.9,468.5 402.3,476.2 403.8,473.1 404.2,450"/>
<path fill="none" stroke="#ffffff" stroke-width="1.0" stroke-linejoin="round" d="M404.2,468.5 425.4,468.5"/>
<path fill="none" stroke="#ffffff" stroke-width="1.0" stroke-linejoin="round" d="M345.4,463.1 346.2,482.3 333.1,483.1 328.5,486.9"/>
<path fill="none" stroke="#ffffff" stroke-width="1.0" stroke-linejoin="round" d="M346.2,482.3 350,486.9 356.2,486.2 363.8,480.8 366.2,480.8"/>
<path fill="none" stroke="#ffffff" stroke-width="1.0" stroke-linejoin="round" d="M385.4,468.5 386.2,480.8 383.8,490"/>
<path fill="none" stroke="#ffffff" stroke-width="1.0" stroke-linejoin="round" d="M402.3,476.2 400.8,480.8 398.5,490 403.8,494.6 411.5,493.1 417.7,494.6 420.8,491.5"/>
<path fill="none" stroke="#ffffff" stroke-width="1.0" stroke-linejoin="round" d="M363.8,474.6 366.2,480.8 363.1,488.5 360.8,500.8"/>
<path fill="none" stroke="#ffffff" stroke-width="1.0" stroke-linejoin="round" d="M363.1,488.5 377.7,486.2 383.8,490 385.4,496.2 376.2,503.8"/>
<path fill="none" stroke="#ffffff" stroke-width="1.0" stroke-linejoin="round" d="M425.4,468.5 426.9,480.8 420.8,491.5 423.8,497.7 431.5,502.3 439.2,497.7 445.4,497.7 437.7,490.3"/>
<path fill="none" stroke="#ffffff" stroke-width="1.0" stroke-linejoin="round" d="M385.4,496.2 391.5,503.8 390,516.2 386.9,522.3 382.3,523.8"/>
<path fill="none" stroke="#ffffff" stroke-width="1.0" stroke-linejoin="round" d="M385.4,496.2 391.5,494.6 398.5,490"/>
<path fill="none" stroke="#ffffff" stroke-width="1.0" stroke-linejoin="round" d="M391.5,503.8 402.3,500.8 411.5,502.3 416.2,508.5 411.5,516.2 414.6,528.5 410,537.7"/>
<path fill="none" stroke="#ffffff" stroke-width="1.0" stroke-linejoin="round" d="M416.2,508.5 430,519.2 433.8,521.5"/>
<path fill="none" stroke="#ffffff" stroke-width="1.0" stroke-linejoin="round" d="M423.8,497.7 422.3,503.8 416.2,508.5"/>
<path fill="none" stroke="#ffffff" stroke-width="1.0" stroke-linejoin="round" d="M431.5,502.3 433.1,510 430,519.2"/>
<path fill="none" stroke="#ffffff" stroke-width="1.0" stroke-linejoin="round" d="M343.1,502.3 342.3,496.2 346.9,491.5 350,486.9"/>
<path fill="none" stroke="#ffffff" stroke-width="1.0" stroke-linejoin="round" d="M351.5,501.5 352.3,491.5 356.2,486.2"/>
<path fill="none" stroke="#ffffff" stroke-width="1.0" stroke-linejoin="round" d="M357.7,500.5 358.5,491.5"/>
<path fill="none" stroke="#ffffff" stroke-width="1.0" stroke-linejoin="round" d="M334.6,495.4 339.2,491.5 337.7,486.9 333.1,483.1"/>
<path fill="none" stroke="#ffffff" stroke-width="1.0" stroke-linejoin="round" d="M380,545.4 397.7,546.2 408.5,547.7 417.7,541.5 420.8,533.8"/>
<path fill="none" stroke="#ffffff" stroke-width="1.0" stroke-linejoin="round" d="M396.2,546.2 394.6,567.7 388.5,567.7"/>
<path fill="none" stroke="#ffffff" stroke-width="1.0" stroke-linejoin="round" d="M394.6,563.1 402.3,561.5 410,555.4 416.2,553.8 423.1,556.9"/>
<path fill="none" stroke="#ffffff" stroke-width="1.0" stroke-linejoin="round" d="M408.5,547.7 411.5,553.8"/>
<path fill="none" stroke="#ffffff" stroke-width="1.0" stroke-linejoin="round" d="M382.3,523.1 388.5,523.1 390,526.2 397.7,525.4 399.2,533.1 408.5,534.6 411.5,536.9 417.7,541.5"/>
<path fill="none" stroke="#ffffff" stroke-width="1.0" stroke-linejoin="round" d="M399.2,533.1 398.5,546.2"/>
<path fill="none" stroke="#ffffff" stroke-width="1.0" stroke-linejoin="round" d="M410,500 411.5,515.4 414.6,529.2 411.5,536.9"/>
<path fill="none" stroke="#ffffff" stroke-width="1.0" stroke-linejoin="round" d="M414.6,529.2 420.8,533.8 431.5,532.3"/>
<path fill="none" stroke="#ffffff" stroke-width="1.0" stroke-linejoin="round" d="M420.8,533.8 417.7,544.6 423.8,550.8"/>
<path fill="none" stroke="#ffffff" stroke-width="1.0" stroke-linejoin="round" d="M411.5,515.4 416.2,514.6 428.5,520"/>
<path fill="none" stroke="#ffffff" stroke-width="1.0" stroke-linejoin="round" d="M426.9,438.5 433.1,439.2 440.8,436.2 443.8,430"/>
<path fill="none" stroke="#ffffff" stroke-width="1.0" stroke-linejoin="round" d="M425.4,446.9 431.5,445.4 437.7,442.3 440.8,436.2"/>
<path fill="none" stroke="#ffffff" stroke-width="1.0" stroke-linejoin="round" d="M437.7,442.3 443.8,448.5"/>
<path fill="none" stroke="#ffffff" stroke-width="1.0" stroke-linejoin="round" d="M423.8,453.1 428.5,450 431.5,445.4"/>
<path fill="none" stroke="#ffffff" stroke-width="1.0" stroke-linejoin="round" d="M443.8,430 445.4,437.7 443.8,443.8 445.4,448.5"/>
<path fill="none" stroke="#ffffff" stroke-width="1.0" stroke-linejoin="round" d="M440,486.2 443.8,479.2 451.5,476.2 457.7,477.7"/>
<path fill="none" stroke="#ffffff" stroke-width="1.0" stroke-linejoin="round" d="M451.5,476.2 457.7,471.5 461.5,464.6"/>
<path fill="none" stroke="#ffffff" stroke-width="1.0" stroke-linejoin="round" d="M457.7,471.5 463.8,473.8"/>
</svg>
<!--/MAP-->
<div class="panel"></div>
<div class="card c1"></div>
<div class="card c2"></div>
<div class="card c3"></div>
<div class="t b w" style="left:781.26px;top:192.98px;font-size:18.58px;transform:scaleX(1.143);">Global Incremental</div>
<div class="t b w" style="left:750.75px;top:221.76px;font-size:18.72px;transform:scaleX(1.1495);">Opportunity, 2025 – 2032</div>
<div class="t b w" style="left:805.75px;top:252.12px;font-size:26.68px;transform:scaleX(1.0257);">US$ 2.1 Bn</div>
<div class="t b w" style="left:763.98px;top:391.08px;font-size:26.19px;transform:scaleX(1.0205);">Asia Pacific ~35%</div>
<div class="t b w" style="left:771.88px;top:427.13px;font-size:18.16px;transform:scaleX(1.1216);">Leading Region, 2025</div>
<div class="t b w" style="left:779.06px;top:563.63px;font-size:25.84px;transform:scaleX(1.0957);">North America</div>
<div class="t b w" style="left:764.38px;top:600.59px;font-size:18.51px;transform:scaleX(1.1244);">Fast-Growing Markets,</div>
<div class="t b w" style="left:852.53px;top:629.63px;font-size:18.16px;transform:scaleX(1.2179);">2025</div>
<div class="t src" style="left:356.02px;top:688.35px;font-size:14.94px;transform:scaleX(0.9848);">Source: <a>www.persistencemarketresearch.com</a></div>
</body>
</html>
